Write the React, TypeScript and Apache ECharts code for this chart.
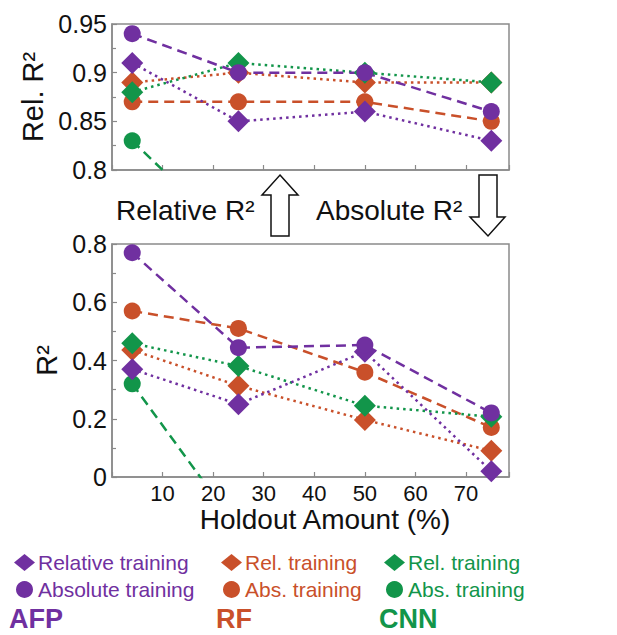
import React, { useEffect, useRef } from "react";
import * as echarts from "echarts";

// ---- data ----
const holdout = [4, 25, 50, 75];
const xTickStep = 10;

const afpRelTop = [0.91, 0.85, 0.86, 0.83];
const afpAbsTop = [0.94, 0.9, 0.9, 0.86];
const rfRelTop = [0.89, 0.9, 0.89, 0.89];
const rfAbsTop = [0.87, 0.87, 0.87, 0.85];
const cnnRelTop = [0.88, 0.91, 0.9, 0.89];
const cnnAbsTop = [0.83, 0.725];

const afpRelBottom = [0.37, 0.25, 0.43, 0.02];
const afpAbsBottom = [0.77, 0.444, 0.453, 0.22];
const rfRelBottom = [0.436, 0.313, 0.196, 0.09];
const rfAbsBottom = [0.57, 0.51, 0.36, 0.17];
const cnnRelBottom = [0.459, 0.381, 0.245, 0.207];
const cnnAbsBottom = [0.32, -0.18];

const legendLabels: Record<string, string> = {
  afpRel: "Relative training",
  afpAbs: "Absolute training",
  rfRel: "Rel. training",
  rfAbs: "Abs. training",
  cnnRel: "Rel. training",
  cnnAbs: "Abs. training",
};
const groupNames = ["AFP", "RF", "CNN"];

const PURPLE = "#7030A0";
const ORANGE = "#C9502A";
const GREEN = "#12954A";
const FONT = '"Liberation Sans", Arial, Helvetica, sans-serif';
const AXIS_GRAY = "#8a8a8a";

function pts(ys: number[]) {
  return ys.map((v, i) => [holdout[i], v]);
}

function mk(
  name: string,
  ys: number[],
  color: string,
  rel: boolean,
  gridIdx: number
) {
  return {
    name,
    type: "line",
    xAxisIndex: gridIdx,
    yAxisIndex: gridIdx,
    data: pts(ys),
    symbol: rel ? "diamond" : "circle",
    symbolSize: rel ? 22 : 17,
    clip: true,
    itemStyle: { color },
    lineStyle: {
      color,
      width: 2.5,
      type: rel ? [2.5, 4] : [10, 6],
      cap: "butt",
    },
    emphasis: { disabled: true },
  };
}

function fmtY(v: number) {
  return String(+v.toFixed(2));
}

export default function App() {
  const ref = useRef<HTMLDivElement>(null);
  useEffect(() => {
    if (!ref.current) return;
    const chart = echarts.init(ref.current, undefined, { renderer: "svg" });

    const xAxisBase = (idx: number, showLabel: boolean) => ({
      type: "value",
      gridIndex: idx,
      min: 0,
      max: 78.5,
      interval: xTickStep,
      splitLine: { show: false },
      axisLine: { show: true, lineStyle: { color: AXIS_GRAY, width: 1.5 } },
      axisTick: {
        show: true,
        inside: true,
        length: 5,
        lineStyle: { color: AXIS_GRAY, width: 1.2 },
      },
      axisLabel: {
        show: showLabel,
        color: "#111",
        fontSize: 22,
        fontFamily: FONT,
        margin: 5,
        formatter: (v: number) => (v <= 0 || v > 75 ? "" : String(v)),
      },
      ...(showLabel
        ? {
            name: "Holdout Amount (%)",
            nameLocation: "middle",
            nameGap: 28,
            nameTextStyle: {
              fontSize: 28,
              color: "#111",
              fontFamily: FONT,
              padding: [0, 0, 0, 29],
            },
          }
        : {}),
    });

    const yAxisBase = (
      idx: number,
      min: number,
      max: number,
      interval: number,
      name: string
    ) => ({
      type: "value",
      gridIndex: idx,
      min,
      max,
      interval,
      name,
      nameLocation: "middle",
      nameGap: 46,
      nameTextStyle: { fontSize: 29, color: "#111", fontFamily: FONT },
      splitLine: { show: false },
      axisLine: { show: true, lineStyle: { color: AXIS_GRAY, width: 1.5 } },
      axisTick: {
        show: true,
        inside: true,
        length: 5,
        lineStyle: { color: AXIS_GRAY, width: 1.2 },
      },
      minorTick: {
        show: true,
        splitNumber: 2,
        length: 4,
        lineStyle: { color: AXIS_GRAY, width: 1.2 },
      },
      axisLabel: {
        color: "#111",
        fontSize: 25,
        fontFamily: FONT,
        margin: 5,
        formatter: fmtY,
      },
    });

    const legendBase = (left: number, items: { name: string; icon: string; color: string }[]) => ({
      orient: "vertical",
      left,
      top: 547,
      itemWidth: 21,
      itemHeight: 17,
      itemGap: 6,
      selectedMode: false,
      formatter: (n: string) => legendLabels[n],
      textStyle: { fontSize: 21, lineHeight: 20, fontFamily: FONT, padding: [0, 0, 0, -2] },
      data: items.map((it) => ({
        name: it.name,
        icon: it.icon,
        itemStyle: { color: it.color },
        textStyle: { color: it.color },
      })),
    });

    const headerText = (x: number, text: string, color: string) => ({
      type: "text",
      x,
      y: 619,
      style: {
        text,
        fill: color,
        fontSize: 27,
        fontWeight: "bold",
        fontFamily: FONT,
        verticalAlign: "middle",
      },
    });

    const option = {
      animation: false,
      backgroundColor: "#ffffff",
      textStyle: { fontFamily: FONT },
      grid: [
        {
          left: 112,
          top: 24,
          width: 397,
          height: 146,
          show: true,
          borderColor: AXIS_GRAY,
          borderWidth: 1.5,
          backgroundColor: "transparent",
        },
        {
          left: 112,
          top: 244,
          width: 397,
          height: 233,
          show: true,
          borderColor: AXIS_GRAY,
          borderWidth: 1.5,
          backgroundColor: "transparent",
        },
      ],
      xAxis: [xAxisBase(0, false), xAxisBase(1, true)],
      yAxis: [
        yAxisBase(0, 0.8, 0.95, 0.05, "Rel. R²"),
        yAxisBase(1, 0, 0.8, 0.2, "R²"),
      ],
      legend: [
        legendBase(9, [
          { name: "afpRel", icon: "diamond", color: PURPLE },
          { name: "afpAbs", icon: "circle", color: PURPLE },
        ]),
        legendBase(216, [
          { name: "rfRel", icon: "diamond", color: ORANGE },
          { name: "rfAbs", icon: "circle", color: ORANGE },
        ]),
        legendBase(379, [
          { name: "cnnRel", icon: "diamond", color: GREEN },
          { name: "cnnAbs", icon: "circle", color: GREEN },
        ]),
      ],
      series: [
        mk("rfRel", rfRelTop, ORANGE, true, 0),
        mk("rfAbs", rfAbsTop, ORANGE, false, 0),
        mk("cnnRel", cnnRelTop, GREEN, true, 0),
        mk("cnnAbs", cnnAbsTop, GREEN, false, 0),
        mk("afpRel", afpRelTop, PURPLE, true, 0),
        mk("afpAbs", afpAbsTop, PURPLE, false, 0),
        mk("rfRel", rfRelBottom, ORANGE, true, 1),
        mk("rfAbs", rfAbsBottom, ORANGE, false, 1),
        mk("cnnRel", cnnRelBottom, GREEN, true, 1),
        mk("cnnAbs", cnnAbsBottom, GREEN, false, 1),
        mk("afpRel", afpRelBottom, PURPLE, true, 1),
        mk("afpAbs", afpAbsBottom, PURPLE, false, 1),
      ],
      graphic: [
        {
          type: "text",
          x: 116,
          y: 210,
          style: {
            text: "Relative R²",
            fill: "#111",
            fontSize: 28,
            fontFamily: FONT,
            verticalAlign: "middle",
          },
        },
        {
          type: "text",
          x: 316,
          y: 210,
          style: {
            text: "Absolute R²",
            fill: "#111",
            fontSize: 28,
            fontFamily: FONT,
            verticalAlign: "middle",
          },
        },
        {
          type: "polygon",
          shape: {
            points: [
              [280, 175],
              [298, 195],
              [289, 195],
              [289, 236],
              [271, 236],
              [271, 195],
              [262, 195],
            ],
          },
          style: { fill: "#fff", stroke: "#111", lineWidth: 1.5 },
        },
        {
          type: "polygon",
          shape: {
            points: [
              [479, 175],
              [497, 175],
              [497, 217],
              [505, 217],
              [488, 236],
              [470, 217],
              [479, 217],
            ],
          },
          style: { fill: "#fff", stroke: "#111", lineWidth: 1.5 },
        },
        headerText(9, groupNames[0], PURPLE),
        headerText(216, groupNames[1], ORANGE),
        headerText(379, groupNames[2], GREEN),
      ],
    };

    chart.setOption(option as any);
    return () => chart.dispose();
  }, []);

  return (
    <div
      ref={ref}
      style={{ position: "absolute", left: 0, top: 0, width: 617, height: 635 }}
    />
  );
}
